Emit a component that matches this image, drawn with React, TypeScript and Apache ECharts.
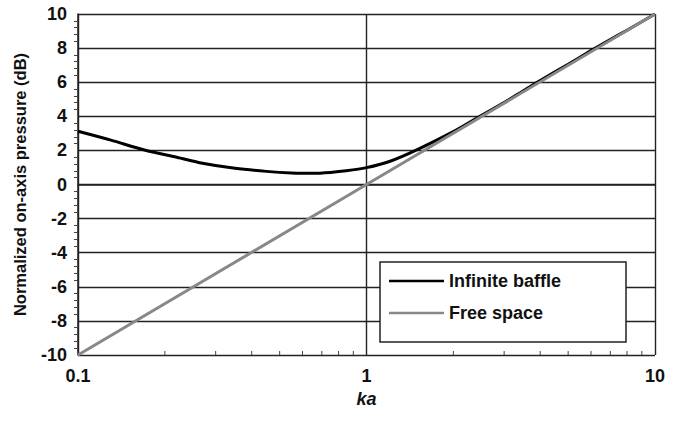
import React, { useEffect, useRef } from "react";
import * as echarts from "echarts";

const baffleKa = [0.1, 0.13, 0.17, 0.22, 0.27, 0.35, 0.45, 0.55, 0.65, 0.75, 0.85, 1.0, 1.2, 1.5, 2.0, 2.5, 3.0, 3.5, 4.0, 5.0, 6.0, 7.0, 8.0, 10.0];
const baffleDb = [3.12, 2.6, 2.02, 1.6, 1.25, 0.95, 0.77, 0.68, 0.66, 0.71, 0.8, 0.99, 1.35, 2.05, 3.1, 4.05, 4.8, 5.5, 6.1, 7.05, 7.85, 8.5, 9.05, 10.0];
const freeKa = [0.1, 1, 10];
const freeDb = [-10, 0, 10];
const minorTickKa = [0.2, 0.3, 0.4, 0.5, 0.6, 0.7, 0.8, 0.9, 2, 3, 4, 5, 6, 7, 8, 9];

const FONT = "'Liberation Sans', Arial, sans-serif";

export default function App() {
  const ref = useRef<HTMLDivElement>(null);
  useEffect(() => {
    if (!ref.current) return;
    const chart = echarts.init(ref.current, null, { renderer: "svg" });
    chart.setOption({
      animation: false,
      backgroundColor: "#fff",
      textStyle: { fontFamily: FONT },
      grid: { left: 78, top: 14, right: 23, bottom: 66, containLabel: false },
      legend: {
        data: [
          { name: "Infinite baffle", icon: "rect" },
          { name: "Free space", icon: "rect" },
        ],
        orient: "vertical",
        left: 380,
        top: 262,
        padding: [10, 65, 20, 9],
        itemGap: 14,
        itemWidth: 55,
        itemHeight: 2.5,
        backgroundColor: "#fff",
        borderColor: "#222",
        borderWidth: 1.5,
        textStyle: { fontFamily: FONT, fontWeight: "bold", fontSize: 18, lineHeight: 18, color: "#111" },
        z: 10,
      },
      xAxis: {
        type: "log",
        logBase: 10,
        min: 0.1,
        max: 10,
        name: "ka",
        nameLocation: "middle",
        nameGap: 35,
        nameTextStyle: { fontFamily: FONT, fontWeight: "bold", fontStyle: "italic", fontSize: 18, color: "#111" },
        axisLine: { show: true, lineStyle: { color: "#222", width: 1.5 } },
        axisTick: { show: false },
        axisLabel: { fontFamily: FONT, fontWeight: "bold", fontSize: 18, color: "#111", margin: 12, formatter: (v: number) => String(v) },
        splitLine: { show: true, lineStyle: { color: "#222", width: 1.4 } },
      },
      yAxis: {
        type: "value",
        min: -10,
        max: 10,
        interval: 2,
        name: "Normalized on-axis pressure (dB)",
        nameLocation: "middle",
        nameGap: 50,
        nameTextStyle: { fontFamily: FONT, fontWeight: "bold", fontSize: 16.5, color: "#111" },
        axisLine: { show: true, lineStyle: { color: "#222", width: 1.5 } },
        axisTick: { show: false },
        minorTick: { show: true, splitNumber: 5, length: 4, lineStyle: { color: "#444", width: 1 } },
        axisLabel: { fontFamily: FONT, fontWeight: "bold", fontSize: 18, color: "#111", margin: 11 },
        splitLine: { show: true, lineStyle: { color: "#222", width: 1.4 } },
      },
      series: [
        {
          name: "Infinite baffle",
          type: "line",
          data: baffleKa.map((k, i) => [k, baffleDb[i]]),
          smooth: 0.3,
          symbol: "none",
          lineStyle: { color: "#000", width: 3 },
          itemStyle: { color: "#000" },
          z: 4,
        },
        {
          name: "Free space",
          type: "line",
          data: freeKa.map((k, i) => [k, freeDb[i]]),
          symbol: "none",
          lineStyle: { color: "#888", width: 3 },
          itemStyle: { color: "#888" },
          z: 5,
        },
        {
          name: "minorTicks",
          type: "custom",
          silent: true,
          data: minorTickKa.map((k) => [k, -10]),
          renderItem: (params: any, api: any) => {
            const p = api.coord([api.value(0), api.value(1)]);
            return {
              type: "line",
              shape: { x1: p[0], y1: p[1], x2: p[0], y2: p[1] - 4 },
              style: { stroke: "#444", lineWidth: 1 },
            };
          },
          z: 3,
        },
      ],
    });
    return () => chart.dispose();
  }, []);
  return <div ref={ref} style={{ position: "fixed", left: 0, top: 0, width: 678, height: 421 }} />;
}
